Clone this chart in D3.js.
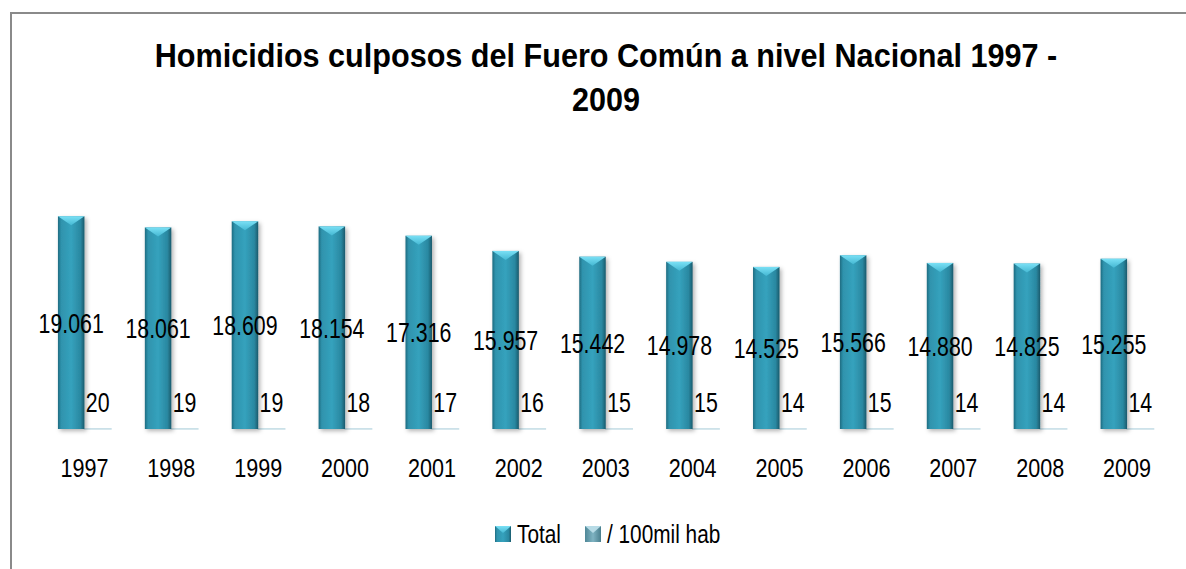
<!DOCTYPE html>
<html>
<head>
<meta charset="utf-8">
<script src="https://cdn.jsdelivr.net/npm/d3@7"></script>
<style>
  body { margin: 0; background: #fff; }
  svg text { font-family: "Liberation Sans", Arial, sans-serif; fill: #000; }
</style>
</head>
<body>
<svg id="chart" width="1186" height="569"></svg>
<script>
// datos
var years = ["1997", "1998", "1999", "2000", "2001", "2002", "2003", "2004", "2005", "2006", "2007", "2008", "2009"];
var totals = [19061, 18061, 18609, 18154, 17316, 15957, 15442, 14978, 14525, 15566, 14880, 14825, 15255];
var rates = [20, 19, 19, 18, 17, 16, 15, 15, 14, 15, 14, 14, 14];
var seriesNames = ["Total", "/ 100mil hab"];
var titleLines = ["Homicidios culposos del Fuero Común a nivel Nacional 1997 -", "2009"];

var settings = {
    w: 1186,
    h: 569,
    left: 41,
    right: 1170.5,
    base: 429,
    top: 150,
    yMax: 25000,
    narrow: 0.8   // la fuente original es condensada
};

var svg = d3.select("#chart");
var defs = svg.append("defs");

// gradientes de las barras
function hGradient(id, stops) {
    var g = defs.append("linearGradient").attr("id", id)
        .attr("x1", "0%").attr("x2", "100%").attr("y1", "0%").attr("y2", "0%");
    stops.forEach(function(s) {
        g.append("stop").attr("offset", s[0]).attr("stop-color", s[1]);
    });
}
hGradient("gTotal", [["0%", "#1e6b80"], ["12%", "#2f93ad"], ["50%", "#35a2bd"], ["85%", "#2a88a1"], ["100%", "#1a5a6c"]]);
hGradient("gRate", [["0%", "#4f8797"], ["50%", "#7fb3c2"], ["100%", "#4a7f8e"]]);

var cap = defs.append("linearGradient").attr("id", "gCap")
    .attr("x1", "0%").attr("x2", "0%").attr("y1", "0%").attr("y2", "100%");
cap.append("stop").attr("offset", "0%").attr("stop-color", "#7ae0f5");
cap.append("stop").attr("offset", "100%").attr("stop-color", "#45b8d3");

var shadow = defs.append("filter").attr("id", "shadow")
    .attr("x", "-30%").attr("y", "-5%").attr("width", "170%").attr("height", "115%");
shadow.append("feDropShadow").attr("dx", 2).attr("dy", 2).attr("stdDeviation", 2)
    .attr("flood-color", "#000").attr("flood-opacity", 0.3);

// marco
svg.append("rect")
    .attr("x", 11).attr("y", 13)
    .attr("width", 1300).attr("height", 700)
    .attr("fill", "none").attr("stroke", "#8a8a8a").attr("stroke-width", 2);

// texto condensado: escala horizontal alrededor del punto de anclaje
function narrowText(sel, x, y, size, s) {
    return sel.append("text")
        .attr("transform", "translate(" + x + "," + y + ") scale(" + s + ",1)")
        .style("font-size", size + "px");
}

// titulo
var title = narrowText(svg, 606, 0, 34, 0.9)
    .attr("text-anchor", "middle")
    .style("font-weight", "bold");
title.selectAll("tspan").data(titleLines).enter().append("tspan")
    .attr("x", 0)
    .attr("y", function(d, i) { return 67 + i * 44; })
    .text(function(d) { return d; });

// escalas
var xScale = d3.scaleBand()
    .domain(years)
    .range([settings.left, settings.right])
    .paddingInner(0.39)
    .paddingOuter(0.195);

var xSub = d3.scaleBand()
    .domain([0, 1])
    .range([0, xScale.bandwidth()]);

var yScale = d3.scaleLinear()
    .domain([0, settings.yMax])
    .range([settings.base, settings.top]);

var es = d3.formatLocale({ decimal: ",", thousands: ".", grouping: [3], currency: ["$", ""] });
var fmt = es.format(",d");

var data = years.map(function(y, i) { return { year: y, total: totals[i], rate: rates[i] }; });

var groups = svg.append("g").selectAll("g")
    .data(data)
    .enter()
    .append("g")
    .attr("transform", function(d) { return "translate(" + xScale(d.year) + ",0)"; });

// barras "/ 100mil hab" (casi planas)
groups.append("rect")
    .attr("x", xSub(1))
    .attr("y", function(d) { return yScale(d.rate); })
    .attr("width", xSub.bandwidth())
    .attr("height", function(d) { return yScale(0) - yScale(d.rate); })
    .attr("fill", "#c9e0e8")
    .attr("stroke", "#c9e0e8")
    .attr("stroke-width", 1.5);

// barras Total
groups.append("rect")
    .attr("x", xSub(0))
    .attr("y", function(d) { return yScale(d.total); })
    .attr("width", xSub.bandwidth())
    .attr("height", function(d) { return yScale(0) - yScale(d.total); })
    .attr("fill", "url(#gTotal)")
    .attr("filter", "url(#shadow)");

groups.append("path")
    .attr("d", function(d) {
        var x0 = xSub(0), x1 = x0 + xSub.bandwidth(), y0 = yScale(d.total);
        return "M" + x0 + "," + y0 + "L" + x1 + "," + y0 + "L" + (x0 + x1) / 2 + "," + (y0 + 9) + "Z";
    })
    .attr("fill", "url(#gCap)");

// etiquetas de datos
groups.each(function(d) {
    var g = d3.select(this);
    narrowText(g, xSub(0) + xSub.bandwidth() / 2, (yScale(d.total) + yScale(0)) / 2 + 10, 27, 0.79)
        .attr("text-anchor", "middle")
        .text(fmt(d.total));
    narrowText(g, xSub(1) + xSub.bandwidth() / 2, yScale(d.rate) - 17, 27, 0.79)
        .attr("text-anchor", "middle")
        .text(d.rate);
});

// eje x
var xAxis = d3.axisBottom(xScale).tickSize(0).tickPadding(0);
var axisG = svg.append("g")
    .attr("transform", "translate(0," + (settings.base + 30) + ")")
    .call(xAxis);
axisG.select(".domain").remove();
axisG.selectAll("text")
    .attr("dy", "0.71em")
    .attr("transform", "scale(0.83,1)")
    .style("font-size", "26px")
    .style("font-family", "'Liberation Sans', Arial, sans-serif");

// leyenda
var legend = svg.append("g").attr("transform", "translate(495,526)");
var legendX = [0, 90];
var fills = ["url(#gTotal)", "url(#gRate)"];
seriesNames.forEach(function(name, i) {
    var item = legend.append("g").attr("transform", "translate(" + legendX[i] + ",0)");
    item.append("rect").attr("width", 16).attr("height", 16).attr("fill", fills[i]);
    item.append("path").attr("d", "M0,0L16,0L8,7Z").attr("fill", i === 0 ? "url(#gCap)" : "#b7dbe6");
    narrowText(item, 22, 17, 26, 0.8).text(name);
});
</script>
</body>
</html>
